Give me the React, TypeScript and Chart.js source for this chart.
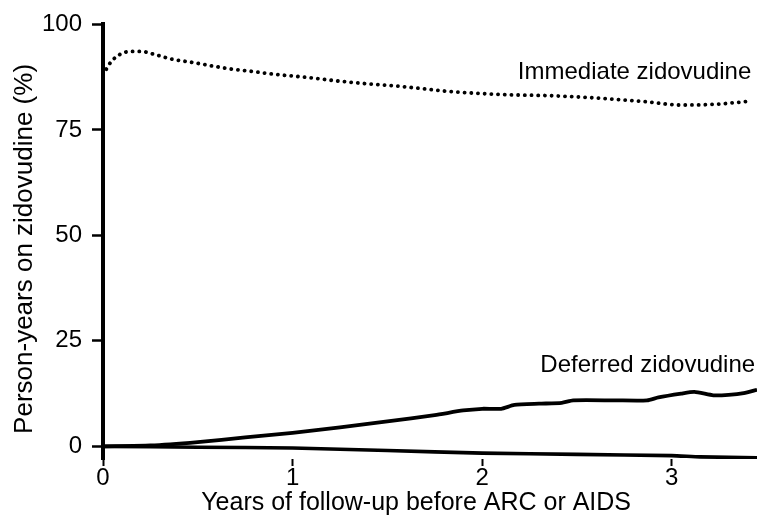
import React, { useEffect, useRef } from "react";
import { Chart, registerables } from "chart.js";

Chart.register(...registerables);

const FONT = "'Liberation Sans', Arial, sans-serif";

// Immediate zidovudine (dotted)
const IMMEDIATE_X = [0, 0.04, 0.09, 0.15, 0.2, 0.27, 0.36, 0.47, 0.57, 0.68, 0.78, 0.9, 1.04, 1.3, 1.57, 1.83, 2.09, 2.36, 2.62, 2.88, 3.04, 3.2, 3.42];
const IMMEDIATE_Y = [88.0, 91.0, 92.9, 93.6, 93.6, 92.9, 91.8, 91.0, 90.2, 89.4, 88.9, 88.2, 87.6, 86.3, 85.3, 84.1, 83.4, 83.1, 82.5, 81.6, 80.9, 81.0, 81.8];

// Deferred zidovudine (solid)
const DEFERRED_X = [0, 0.25, 0.5, 0.75, 1.0, 1.25, 1.5, 1.75, 1.9, 2.0, 2.1, 2.17, 2.3, 2.42, 2.48, 2.7, 2.87, 2.93, 3.05, 3.12, 3.22, 3.3, 3.38, 3.45];
const DEFERRED_Y = [0, 0.2, 1.0, 2.1, 3.2, 4.5, 5.9, 7.4, 8.5, 8.9, 8.9, 9.8, 10.1, 10.3, 10.9, 10.9, 10.9, 11.6, 12.5, 12.9, 12.1, 12.2, 12.6, 13.4];

// Baseline (x-axis line as printed, slightly sloping)
const BASELINE_X = [0, 0.5, 1.0, 1.5, 2.0, 2.5, 3.0, 3.15, 3.45];
const BASELINE_Y = [0, -0.2, -0.4, -1.0, -1.6, -1.9, -2.2, -2.5, -2.7];

const X_TICKS = [0, 1, 2, 3];
const Y_TICKS = [0, 25, 50, 75, 100];

const X_TITLE = "Years of follow-up before ARC or AIDS    ";
const Y_TITLE = "Person-years on zidovudine (%)  ";

const SERIES_LABELS = [
  { text: "Immediate zidovudine", x: 3.42, y: 88.6 },
  { text: "Deferred zidovudine", x: 3.44, y: 19.2 },
];

export default function App() {
  const ref = useRef<HTMLCanvasElement | null>(null);

  useEffect(() => {
    const canvas = ref.current;
    if (!canvas) return;
    const toPts = (xs: number[], ys: number[]) => xs.map((x, i) => ({ x, y: ys[i] }));

    const labelPlugin = {
      id: "seriesLabels",
      afterDatasetsDraw(chart: any) {
        const { ctx, scales } = chart;
        ctx.save();
        ctx.font = `24px ${FONT}`;
        ctx.fillStyle = "#000";
        ctx.textAlign = "right";
        ctx.textBaseline = "middle";
        SERIES_LABELS.forEach((l) => {
          ctx.fillText(l.text, scales.x.getPixelForValue(l.x), scales.y.getPixelForValue(l.y));
        });
        ctx.restore();
      },
    };

    const chart = new Chart(canvas, {
      type: "line",
      data: {
        datasets: [
          {
            label: "Immediate zidovudine",
            data: toPts(IMMEDIATE_X, IMMEDIATE_Y),
            borderColor: "#000",
            borderWidth: 3.8,
            borderDash: [0.1, 6.6],
            borderCapStyle: "round",
            cubicInterpolationMode: "monotone",
            pointRadius: 0,
          },
          {
            label: "Deferred zidovudine",
            data: toPts(DEFERRED_X, DEFERRED_Y),
            borderColor: "#000",
            borderWidth: 3.8,
            tension: 0.2,
            pointRadius: 0,
          },
          {
            label: "Baseline",
            data: toPts(BASELINE_X, BASELINE_Y),
            borderColor: "#000",
            borderWidth: 3.6,
            tension: 0.2,
            pointRadius: 0,
          },
        ],
      },
      options: {
        animation: false,
        responsive: true,
        maintainAspectRatio: false,
        layout: { padding: { top: 18, right: 18, bottom: 0, left: 0 } },
        plugins: { legend: { display: false }, tooltip: { enabled: false } },
        scales: {
          x: {
            type: "linear",
            min: 0,
            max: 3.45,
            border: { display: false },
            grid: { drawOnChartArea: false, tickLength: 7, tickWidth: 2, tickColor: "#000" },
            ticks: {
              color: "#000",
              font: { family: FONT, size: 24 },
              padding: -2,
              maxRotation: 0,
              callback: (v: any) => String(v),
            },
            afterBuildTicks: (s: any) => {
              s.ticks = X_TICKS.map((v) => ({ value: v }));
            },
            afterFit: (s: any) => {
              s.height = 66;
            },
            title: {
              display: true,
              text: X_TITLE,
              color: "#000",
              font: { family: FONT, size: 25 },
              padding: { top: 0, bottom: 7 },
            },
          },
          y: {
            type: "linear",
            min: -3,
            max: 100,
            border: { display: true, color: "#000", width: 4 },
            grid: { drawOnChartArea: false, tickLength: 11, tickWidth: 2.5, tickColor: "#000" },
            ticks: {
              color: "#000",
              font: { family: FONT, size: 24 },
              padding: 10,
              callback: (v: any) => String(v),
            },
            afterBuildTicks: (s: any) => {
              s.ticks = Y_TICKS.map((v) => ({ value: v }));
            },
            afterFit: (s: any) => {
              s.width = 103;
            },
            title: {
              display: true,
              text: Y_TITLE,
              color: "#000",
              font: { family: FONT, size: 26 },
              padding: { top: 9, bottom: 0 },
            },
          },
        },
      },
      plugins: [labelPlugin],
    } as any);

    return () => chart.destroy();
  }, []);

  return (
    <div style={{ position: "fixed", left: 0, top: 0, width: 775, height: 525, background: "#fff" }}>
      <canvas ref={ref} />
    </div>
  );
}
